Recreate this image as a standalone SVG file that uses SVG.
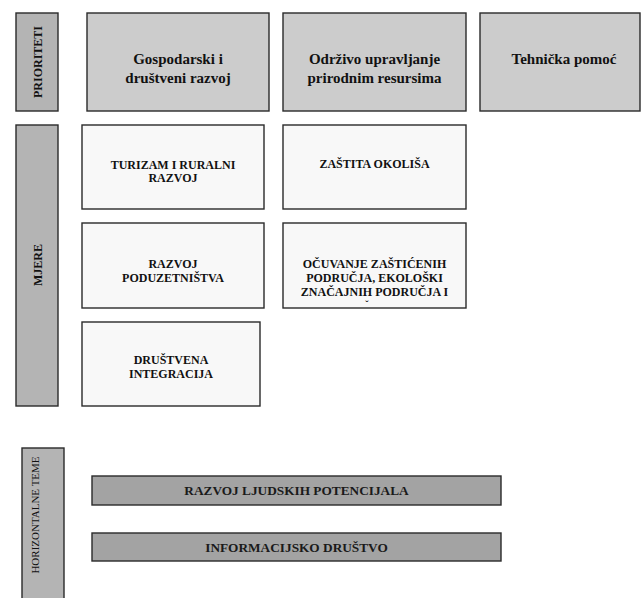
<svg xmlns="http://www.w3.org/2000/svg" width="641" height="598" viewBox="0 0 641 598" font-family="'Liberation Serif', Tinos, 'DejaVu Serif', serif">
<style>
rect{stroke:#2a2a2a;stroke-width:1.4}
.side{fill:#b4b4b4}
.prio{fill:#cccccc}
.mj{fill:#f8f8f8}
.bar{fill:#a3a3a3}
text{font-family:'Liberation Serif', Tinos, 'DejaVu Serif', serif;fill:#111;text-anchor:middle}
.t15{font-size:15px;font-weight:bold}
.t12{font-size:12px;font-weight:bold}
.t13{font-size:13.3px;font-weight:bold;fill:#1a1a1a}
.t11{font-size:11px}
.t10{font-size:10px;font-weight:bold}
</style>
<rect x="0" y="0" width="641" height="598" fill="#ffffff" style="stroke:none"/>
<g id="lbl-prioriteti">
<rect class="side" x="16" y="13" width="42" height="98"/>
<text class="t12" transform="translate(41.5,62) rotate(-90)">PRIORITETI</text>
</g>
<g id="lbl-mjere">
<rect class="side" x="16" y="125" width="42" height="281"/>
<text class="t12" transform="translate(41.5,265) rotate(-90)">MJERE</text>
</g>
<g id="lbl-horizontalne">
<rect class="side" x="22" y="448" width="42" height="152"/>
<text class="t11" transform="translate(38.5,515) rotate(-90)">HORIZONTALNE TEME</text>
</g>
<g id="p1">
<rect class="prio" x="87" y="13" width="182" height="98"/>
<text class="t15" x="178" y="64">Gospodarski i</text>
<text class="t15" x="178" y="82.5">društveni razvoj</text>
</g>
<g id="p2">
<rect class="prio" x="283" y="13" width="183" height="98"/>
<text class="t15" x="374.5" y="64">Održivo upravljanje</text>
<text class="t15" x="374.5" y="82.5">prirodnim resursima</text>
</g>
<g id="p3">
<rect class="prio" x="480" y="13" width="160" height="98"/>
<text class="t15" x="564" y="64">Tehnička pomoć</text>
</g>
<g id="m1">
<rect class="mj" x="82" y="125" width="182" height="84"/>
<text class="t12" x="173" y="168.5">TURIZAM I RURALNI</text>
<text class="t12" x="173" y="182">RAZVOJ</text>
</g>
<g id="m2">
<rect class="mj" x="283" y="125" width="183" height="84"/>
<text class="t12" x="374.5" y="168">ZAŠTITA OKOLIŠA</text>
</g>
<g id="m3">
<rect class="mj" x="82" y="223" width="182" height="85"/>
<text class="t12" x="173" y="268">RAZVOJ</text>
<text class="t12" x="173" y="282">PODUZETNIŠTVA</text>
</g>
<g id="m4">
<rect class="mj" x="283" y="223" width="183" height="85"/>
<text class="t12" x="374.5" y="268">OČUVANJE ZAŠTIĆENIH</text>
<text class="t12" x="374.5" y="282">PODRUČJA, EKOLOŠKI</text>
<text class="t12" x="374.5" y="296">ZNAČAJNIH PODRUČJA I</text>
<text class="t10" x="367" y="307.6">ˇ</text>
</g>
<g id="m5">
<rect class="mj" x="82" y="322" width="178" height="84"/>
<text class="t12" x="171" y="364">DRUŠTVENA</text>
<text class="t12" x="171" y="377.5">INTEGRACIJA</text>
</g>
<g id="h1">
<rect class="bar" x="92" y="476" width="409" height="29"/>
<text class="t13" x="296.5" y="495">RAZVOJ LJUDSKIH POTENCIJALA</text>
</g>
<g id="h2">
<rect class="bar" x="92" y="533" width="409" height="28"/>
<text class="t13" x="296.5" y="551.5">INFORMACIJSKO DRUŠTVO</text>
</g>
<g id="connectors"/>
</svg>
